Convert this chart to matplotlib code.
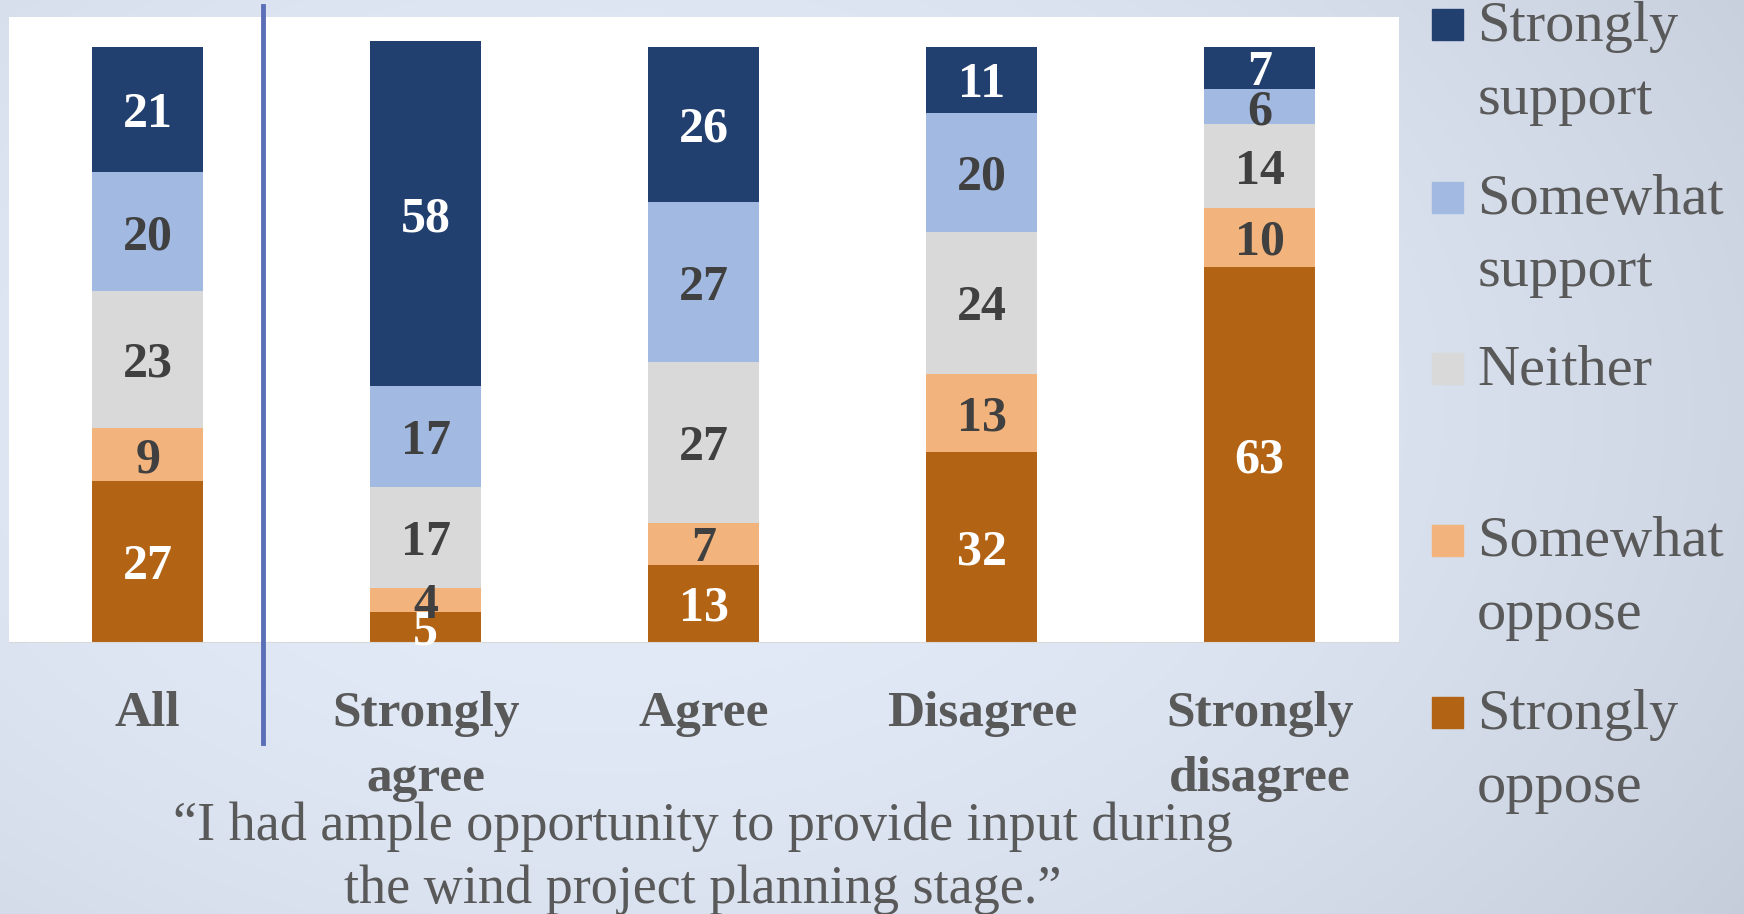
import numpy as np
import matplotlib.pyplot as plt
from matplotlib.lines import Line2D
from matplotlib.patches import Rectangle

categories = ['All', 'Strongly\nagree', 'Agree', 'Disagree', 'Strongly\ndisagree']
series = ['Strongly oppose', 'Somewhat oppose', 'Neither', 'Somewhat support', 'Strongly support']
legend_labels = ['Strongly\noppose', 'Somewhat\noppose', 'Neither', 'Somewhat\nsupport', 'Strongly\nsupport']
strongly_oppose = [27, 5, 13, 32, 63]
somewhat_oppose = [9, 4, 7, 13, 10]
neither = [23, 17, 27, 24, 14]
somewhat_support = [20, 17, 27, 20, 6]
strongly_support = [21, 58, 26, 11, 7]
caption = '\u201cI had ample opportunity to provide input during\nthe wind project planning stage.\u201d'

colors = ['#B36314', '#F2B47C', '#D9D9D9', '#A2BAE1', '#22406F']
label_colors = ['white', '#404040', '#404040', '#404040', 'white']
serif = ['Liberation Serif', 'DejaVu Serif']
gray = '#595959'

fig = plt.figure(figsize=(17.44, 9.14), dpi=100)

# background gradient
bg = fig.add_axes([0, 0, 1, 1], zorder=-10)
yy, xx = np.mgrid[0:1:300j, 0:1:600j]
r = np.sqrt(((xx - 0.35) * 1.3) ** 2 + (yy - 0.45) ** 2)
r = np.clip(r, 0, 1) ** 2
c0 = np.array([0.890, 0.925, 0.972])
c1 = np.array([0.776, 0.804, 0.859])
img = c0 + (c1 - c0) * r[..., None]
bg.imshow(img, aspect='auto', extent=[0, 1, 0, 1], origin='upper')
bg.axis('off')

ax = fig.add_axes([0.005, 0.2976, 0.797, 0.6834])
ax.set_facecolor('white')
x = np.arange(len(categories))
data = [strongly_oppose, somewhat_oppose, neither, somewhat_support, strongly_support]
bottom = np.zeros(len(categories))
for vals, col, lc in zip(data, colors, label_colors):
    bars = ax.bar(x, vals, 0.4, bottom=bottom, color=col, edgecolor='none')
    anns = ax.bar_label(bars, labels=[str(v) for v in vals], label_type='center',
                        color=lc, fontsize=36, fontweight='bold', family=serif)
    for a in anns:
        a.set_verticalalignment('center_baseline')
    bottom += np.array(vals)

ax.set_xlim(-0.5, 4.5)
ax.set_ylim(0, 105)
ax.set_yticks([])
ax.set_xticks(x)
ax.set_xticklabels(categories, fontsize=37, fontweight='bold', color=gray,
                   family=serif, linespacing=1.55)
ax.tick_params(axis='x', length=0, pad=35)
for s in ['top', 'left', 'right']:
    ax.spines[s].set_visible(False)
ax.spines['bottom'].set_color('#D9D9D9')

# separator after "All"
fig.add_artist(Line2D([0.151, 0.151], [0.187, 0.993], color='#5A6FB6', lw=3.5))

# legend, drawn by hand so markers sit on first line
leg_y = [0.220, 0.409, 0.597, 0.784, 0.973]
for lab, col, yv in zip(legend_labels, colors, leg_y):
    fig.add_artist(Rectangle((0.821, yv - 0.017), 0.0178, 0.034, color=col,
                             transform=fig.transFigure))
    fig.text(0.847, yv + 0.026, lab, fontsize=42, color=gray, family=serif,
             va='top', ha='left', linespacing=1.52)

fig.text(0.403, 0.061, caption, fontsize=39, color=gray, family=serif,
         ha='center', va='center', linespacing=1.35)

fig.savefig('out.png', dpi=100)
